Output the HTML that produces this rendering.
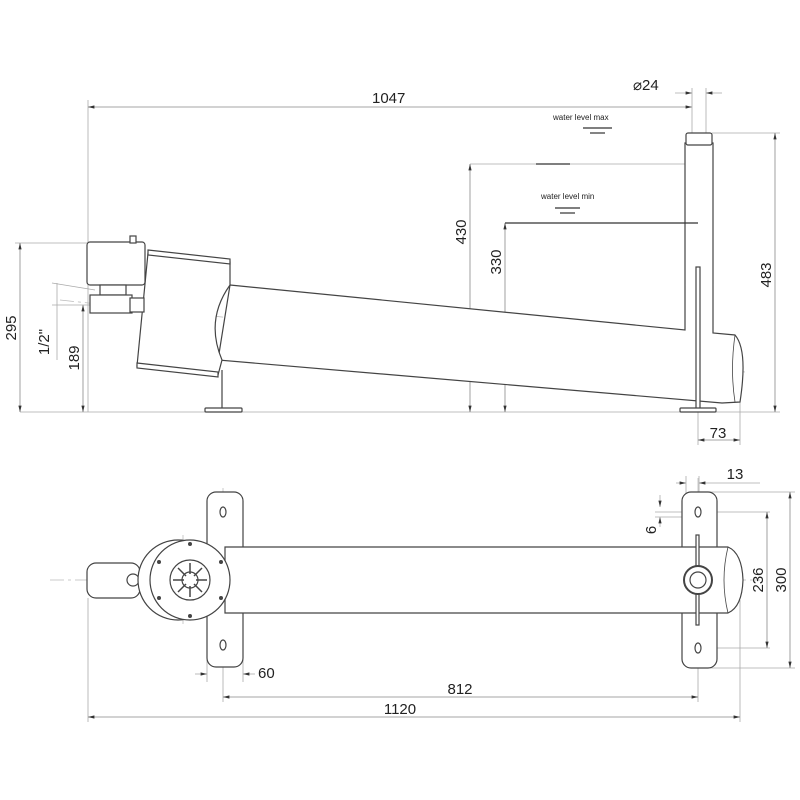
<!DOCTYPE html>
<html><head><style>body{margin:0;background:#fff}svg{display:block}text{font-family:"Liberation Sans",sans-serif;fill:#222}</style></head>
<body>
<svg width="800" height="800" viewBox="0 0 800 800" xmlns="http://www.w3.org/2000/svg">
<defs>
<marker id="a" markerWidth="8" markerHeight="6" refX="8" refY="3" orient="auto-start-reverse"><path d="M0,1 L8,3 L0,5z" fill="#333"/></marker>
</defs>
<g stroke="#aaa" stroke-width="0.8" fill="none">
<!-- top view dims -->
<line x1="88" y1="100" x2="88" y2="412"/>
<line x1="88" y1="107" x2="692" y2="107" marker-start="url(#a)" marker-end="url(#a)" stroke="#888"/>
<line x1="692" y1="88" x2="692" y2="135"/><line x1="706" y1="88" x2="706" y2="135"/>
<line x1="675" y1="93" x2="692" y2="93" marker-end="url(#a)"/><line x1="722" y1="93" x2="706" y2="93" marker-end="url(#a)"/>
<line x1="20" y1="412" x2="780" y2="412"/>
<line x1="15" y1="243" x2="90" y2="243"/>
<line x1="20" y1="243" x2="20" y2="412" marker-start="url(#a)" marker-end="url(#a)" stroke="#888"/>
<line x1="83" y1="305" x2="83" y2="412" marker-start="url(#a)" marker-end="url(#a)" stroke="#888"/>
<line x1="52" y1="283" x2="95" y2="290"/><line x1="52" y1="305" x2="95" y2="305"/>
<line x1="57" y1="283" x2="57" y2="360"/>
<line x1="470" y1="164" x2="685" y2="164"/>
<line x1="470" y1="164" x2="470" y2="412" marker-start="url(#a)" marker-end="url(#a)" stroke="#888"/>
<line x1="505" y1="223" x2="505" y2="412" marker-start="url(#a)" marker-end="url(#a)" stroke="#888"/>
<line x1="712" y1="133" x2="780" y2="133"/>
<line x1="775" y1="133" x2="775" y2="412" marker-start="url(#a)" marker-end="url(#a)" stroke="#888"/>
<line x1="740" y1="395" x2="740" y2="445"/>
<line x1="698" y1="412" x2="698" y2="445"/>
<line x1="698" y1="440" x2="740" y2="440" marker-start="url(#a)" marker-end="url(#a)" stroke="#888"/>
<!-- bottom view dims -->
<line x1="686" y1="476" x2="686" y2="495"/><line x1="699" y1="476" x2="699" y2="495"/>
<line x1="676" y1="483" x2="686" y2="483" marker-end="url(#a)"/><line x1="760" y1="483" x2="699" y2="483" marker-end="url(#a)"/>
<line x1="710" y1="492" x2="795" y2="492"/><line x1="710" y1="668" x2="795" y2="668"/>
<line x1="790" y1="492" x2="790" y2="668" marker-start="url(#a)" marker-end="url(#a)" stroke="#888"/>
<line x1="655" y1="512" x2="770" y2="512"/><line x1="690" y1="648" x2="770" y2="648"/>
<line x1="767" y1="512" x2="767" y2="648" marker-start="url(#a)" marker-end="url(#a)" stroke="#888"/>
<line x1="660" y1="495" x2="660" y2="507" marker-end="url(#a)"/><line x1="660" y1="527" x2="660" y2="517" marker-end="url(#a)"/>
<line x1="655" y1="517" x2="700" y2="517"/>
<line x1="88" y1="598" x2="88" y2="722"/><line x1="740" y1="600" x2="740" y2="722"/>
<line x1="207" y1="660" x2="207" y2="682"/><line x1="243" y1="660" x2="243" y2="682"/>
<line x1="223" y1="650" x2="223" y2="702"/><line x1="698" y1="650" x2="698" y2="702"/>
<line x1="195" y1="674" x2="207" y2="674" marker-end="url(#a)"/><line x1="255" y1="674" x2="243" y2="674" marker-end="url(#a)"/>
<line x1="223" y1="697" x2="698" y2="697" marker-start="url(#a)" marker-end="url(#a)" stroke="#888"/>
<line x1="88" y1="717" x2="740" y2="717" marker-start="url(#a)" marker-end="url(#a)" stroke="#888"/>
</g>
<!-- centre lines -->
<g stroke="#bbb" stroke-width="0.8" fill="none" stroke-dasharray="14,4,3,4">
<line x1="60" y1="300" x2="745" y2="372"/>
<line x1="50" y1="580" x2="760" y2="580"/>
<line x1="223" y1="488" x2="223" y2="690"/>
<line x1="698" y1="478" x2="698" y2="690"/>
<line x1="183" y1="535" x2="183" y2="625"/>
<line x1="190" y1="258" x2="180" y2="372"/>
</g>
<!-- side view -->
<g stroke="#444" stroke-width="1.2" fill="#fff">
<path d="M230,285 L685,330 L685,143 L713,143 L713,333 L735,335 Q748,350 740,402 L722,403 L218,360 Z"/>
<path d="M735,335 Q730,370 735,402" fill="none" stroke-width="0.8"/>
<rect x="686" y="133" width="26" height="12" rx="2"/>
<path d="M148,253 L230,262 L230,285 Q205,320 222,360 L218,375 L137,366 Z"/>
<path d="M148,250 L230,259 L230,264 L148,255Z"/>
<path d="M137,363 L218,372 L218,377 L137,368Z"/>
<rect x="87" y="242" width="58" height="43" rx="3"/>
<rect x="130" y="236" width="6" height="7"/>
<rect x="100" y="285" width="26" height="10"/>
<rect x="90" y="295" width="42" height="18"/>
<rect x="130" y="298" width="14" height="14"/>
<path d="M222,370 L222,410" fill="none"/>
<rect x="205" y="408" width="37" height="4" rx="1"/>
<rect x="696" y="267" width="4" height="142"/>
<rect x="680" y="408" width="36" height="4" rx="1"/>
</g>
<g stroke="#333" stroke-width="1.2">
<line x1="505" y1="223" x2="698" y2="223"/>
<line x1="536" y1="164" x2="570" y2="164"/>
<line x1="583" y1="128" x2="612" y2="128"/><line x1="590" y1="133" x2="605" y2="133"/>
<line x1="555" y1="208" x2="580" y2="208"/><line x1="560" y1="213" x2="575" y2="213"/>
</g>
<!-- bottom view -->
<g stroke="#444" stroke-width="1.2" fill="#fff">
<rect x="207" y="492" width="36" height="175" rx="9"/>
<rect x="682" y="492" width="35" height="176" rx="9"/>
<path d="M225,547 L728,547 Q742,553 743,580 Q742,607 728,613 L225,613Z"/>
<path d="M728,547 Q720,580 728,613" fill="none" stroke-width="0.8"/>
<rect x="87" y="563" width="53" height="35" rx="9"/>
<circle cx="133" cy="580" r="6"/>
<circle cx="178" cy="580" r="40"/>
<circle cx="190" cy="580" r="40"/>
<circle cx="190" cy="580" r="20"/>
<circle cx="190" cy="580" r="8"/>
<ellipse cx="223" cy="512" rx="3" ry="5"/><ellipse cx="223" cy="645" rx="3" ry="5"/>
<ellipse cx="698" cy="512" rx="3" ry="5"/><ellipse cx="698" cy="648" rx="3" ry="5"/>
<rect x="696" y="535" width="3" height="90"/>
<circle cx="698" cy="580" r="14" stroke-width="2"/>
<circle cx="698" cy="580" r="8"/>
</g>
<g fill="#444">
<circle cx="190" cy="544" r="2"/><circle cx="190" cy="616" r="2"/>
<circle cx="159" cy="562" r="2"/><circle cx="221" cy="562" r="2"/>
<circle cx="159" cy="598" r="2"/><circle cx="221" cy="598" r="2"/>
</g>
<g stroke="#444" stroke-width="1.5">
<line x1="190" y1="563" x2="190" y2="574"/><line x1="190" y1="586" x2="190" y2="597"/>
<line x1="173" y1="580" x2="184" y2="580"/><line x1="196" y1="580" x2="207" y2="580"/>
<line x1="178" y1="568" x2="186" y2="576"/><line x1="194" y1="584" x2="202" y2="592"/>
<line x1="202" y1="568" x2="194" y2="576"/><line x1="186" y1="584" x2="178" y2="592"/>
</g>
<!-- text -->
<g font-size="15">
<text x="372" y="103">1047</text>
<text x="633" y="90">⌀24</text>
<text x="718" y="438" text-anchor="middle">73</text>
<text x="735" y="479" text-anchor="middle">13</text>
<text x="258" y="678">60</text>
<text x="460" y="694" text-anchor="middle">812</text>
<text x="400" y="714" text-anchor="middle">1120</text>
<text transform="translate(16,328) rotate(-90)" text-anchor="middle">295</text>
<text transform="translate(79,358) rotate(-90)" text-anchor="middle">189</text>
<text transform="translate(49,342) rotate(-90)" text-anchor="middle">1/2"</text>
<text transform="translate(466,232) rotate(-90)" text-anchor="middle">430</text>
<text transform="translate(501,262) rotate(-90)" text-anchor="middle">330</text>
<text transform="translate(771,275) rotate(-90)" text-anchor="middle">483</text>
<text transform="translate(656,530) rotate(-90)" text-anchor="middle">6</text>
<text transform="translate(763,580) rotate(-90)" text-anchor="middle">236</text>
<text transform="translate(786,580) rotate(-90)" text-anchor="middle">300</text>
</g>
<text x="553" y="120" font-size="8">water level max</text>
<text x="541" y="199" font-size="8">water level min</text>
</svg>
</body></html>
